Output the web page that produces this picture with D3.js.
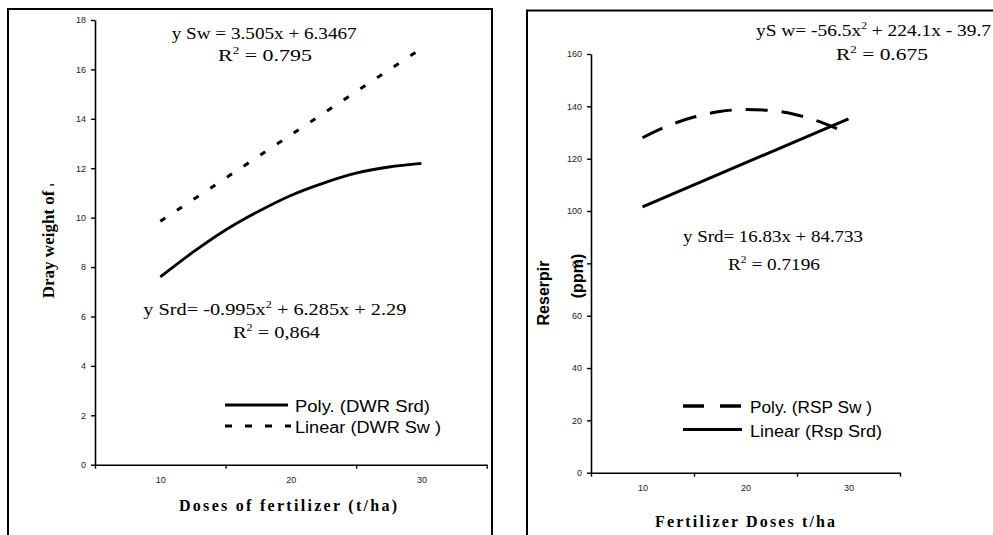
<!DOCTYPE html>
<html><head><meta charset="utf-8">
<script src="https://cdn.jsdelivr.net/npm/d3@7"></script>
<style>body{margin:0;background:#fff}svg{display:block}</style>
</head><body>
<svg id="c" width="993" height="535"></svg>
<script>
// ---------- data ----------
const doseCategories = ["10", "20", "30"];
const categoryPos = [1, 2, 3];
const categoryEdges = [0.5, 1.5, 2.5, 3.5];
const dwrTicks = [0, 2, 4, 6, 8, 10, 12, 14, 16, 18];
const rspTicks = [0, 20, 40, 60, 80, 100, 120, 140, 160];

// Left chart: dry weight trendlines
const dwrSrdX = [1, 1.25, 1.5, 1.75, 2, 2.25, 2.5, 2.75, 3];
const dwrSrdPoly = [7.6, 8.6, 9.5, 10.25, 10.9, 11.4, 11.8, 12.05, 12.2];
const dwrSwX = [1, 2, 3];
const dwrSwLinear = [9.85, 13.35, 16.85];

// Right chart: reserpine trendlines
const rspSwX = [1, 1.25, 1.5, 1.75, 2, 2.25, 2.5, 2.75, 3];
const rspSwPoly = [128, 132.6, 135.9, 138.0, 138.8, 138.4, 136.7, 133.7, 129.5];
const rspSrdX = [1, 3];
const rspSrdLinear = [101.6, 135.2];

// ---------- drawing ----------
const svg = d3.select("#c");
const SERIF = "'Liberation Serif','Times New Roman',serif";
const SANS = "'Liberation Sans',Arial,sans-serif";

function label(g, x, y, parts, o) {
  const t = g.append("text").attr("x", x).attr("y", y)
    .attr("font-family", o.family).attr("font-size", o.size)
    .attr("font-weight", o.weight || "normal").attr("fill", "#000");
  if (o.len) t.attr("textLength", o.len).attr("lengthAdjust", o.adjust || "spacingAndGlyphs");
  if (o.anchor) t.attr("text-anchor", o.anchor);
  if (o.transform) t.attr("transform", o.transform);
  parts.forEach(p => {
    const s = t.append("tspan").text(p.t);
    if (p.sup) s.attr("font-size", o.size * 0.6).attr("dy", -o.size * 0.4);
    if (p.down) s.attr("dy", o.size * 0.4);
    if (p.small) s.attr("font-size", p.small);
  });
  return t;
}

function panel(cfg) {
  const g = svg.append("g");
  g.append("rect").attr("x", cfg.frame[0]).attr("y", cfg.frame[1])
    .attr("width", cfg.frame[2]).attr("height", cfg.frame[3])
    .attr("fill", "none").attr("stroke", "#000").attr("stroke-width", 2);

  const x = d3.scaleLinear().domain([0.5, 3.5]).range(cfg.xr);
  const y = d3.scaleLinear().domain(cfg.ydom).range(cfg.yr);

  const ya = g.append("g").attr("transform", `translate(${cfg.xr[0]},0)`)
    .call(d3.axisLeft(y).tickValues(cfg.yticks).tickSize(4).tickSizeOuter(0).tickPadding(5));
  ya.select(".domain").attr("stroke-width", 1.6);
  ya.selectAll(".tick line").attr("stroke-width", 1.4);
  ya.selectAll(".tick text").attr("font-family", SANS).attr("font-size", 9).attr("fill", "#222");

  const xa = g.append("g").attr("transform", `translate(0,${cfg.yr[0]})`)
    .call(d3.axisBottom(x).tickValues(categoryEdges).tickSize(4).tickSizeOuter(0).tickFormat(""));
  xa.select(".domain").attr("stroke-width", 1.6);
  xa.selectAll(".tick line").attr("stroke-width", 1.4);
  const xl = g.append("g").attr("transform", `translate(0,${cfg.yr[0]})`)
    .call(d3.axisBottom(x).tickValues(categoryPos).tickSize(0).tickPadding(12)
      .tickFormat((d, i) => doseCategories[i]));
  xl.select(".domain").remove();
  xl.selectAll(".tick text").attr("font-family", SANS).attr("font-size", 9).attr("fill", "#222");

  const line = d3.line().x(d => x(d[0])).y(d => y(d[1])).curve(d3.curveMonotoneX);
  cfg.series.forEach(s => {
    g.append("path").datum(s.x.map((v, i) => [v, s.y[i]]))
      .attr("d", line).attr("fill", "none").attr("stroke", "#000")
      .attr("stroke-width", s.w).attr("stroke-dasharray", s.dash || null);
  });
  return {g, x, y};
}

const L = panel({
  frame: [8, 9, 484, 600], xr: [95, 486.7], yr: [464.7, 20], ydom: [0, 18], yticks: dwrTicks,
  series: [
    {x: dwrSrdX, y: dwrSrdPoly, w: 2.8},
    {x: dwrSwX, y: dwrSwLinear, w: 3, dash: "6,14"}
  ]
});
const R = panel({
  frame: [527, 10.5, 600, 600], xr: [591, 900], yr: [472.7, 54], ydom: [0, 160], yticks: rspTicks,
  series: [
    {x: rspSwX, y: rspSwPoly, w: 3, dash: "22,14"},
    {x: rspSrdX, y: rspSrdLinear, w: 3}
  ]
});

// ---- left chart texts ----
const lg = L.g;
label(lg, 171.7, 39, [{t: "y Sw = 3.505x + 6.3467"}], {family: SERIF, size: 16.5, len: 185});
label(lg, 218, 61, [{t: "R"}, {t: "2", sup: true}, {t: " = 0.795", down: true}], {family: SERIF, size: 16.5, len: 94});
label(lg, 143.3, 315, [{t: "y Srd= -0.995x"}, {t: "2", sup: true}, {t: " + 6.285x + 2.29", down: true}], {family: SERIF, size: 16.5, len: 263});
label(lg, 233, 337.5, [{t: "R"}, {t: "2", sup: true}, {t: " = 0,864", down: true}], {family: SERIF, size: 16.5, len: 87});
label(lg, 179, 511, [{t: "Doses of fertilizer (t/ha)"}], {family: SERIF, size: 16, weight: "bold", len: 218, adjust: "spacing"});
label(lg, 0, 0, [{t: "Dray weight of "}, {t: "ı", small: 9}], {family: SERIF, size: 17, weight: "bold", anchor: "middle", transform: "translate(54,241) rotate(-90)"});
lg.append("line").attr("x1", 225).attr("x2", 288).attr("y1", 405).attr("y2", 405).attr("stroke", "#000").attr("stroke-width", 3);
lg.append("line").attr("x1", 225).attr("x2", 291).attr("y1", 426).attr("y2", 426).attr("stroke", "#000").attr("stroke-width", 3).attr("stroke-dasharray", "7,13");
label(lg, 295, 411.5, [{t: "Poly. (DWR Srd)"}], {family: SANS, size: 16, len: 135});
label(lg, 295, 432.5, [{t: "Linear (DWR Sw )"}], {family: SANS, size: 16, len: 146});

// ---- right chart texts ----
const rg = R.g;
label(rg, 756, 36, [{t: "yS w= -56.5x"}, {t: "2", sup: true}, {t: " + 224.1x - 39.7", down: true}], {family: SERIF, size: 16.5, len: 235});
label(rg, 836, 60, [{t: "R"}, {t: "2", sup: true}, {t: " = 0.675", down: true}], {family: SERIF, size: 16.5, len: 92});
label(rg, 683, 241.5, [{t: "y Srd= 16.83x + 84.733"}], {family: SERIF, size: 16.5, len: 180});
label(rg, 728, 270, [{t: "R"}, {t: "2", sup: true}, {t: " = 0.7196", down: true}], {family: SERIF, size: 16.5, len: 92});
label(rg, 655, 527, [{t: "Fertilizer Doses  t/ha"}], {family: SERIF, size: 16, weight: "bold", len: 180, adjust: "spacing"});
label(rg, 0, 0, [{t: "Reserpir"}], {family: SANS, size: 16, weight: "bold", anchor: "middle", transform: "translate(549,293) rotate(-90)"});
label(rg, 0, 0, [{t: "(ppm)"}], {family: SANS, size: 16, weight: "bold", anchor: "middle", transform: "translate(583,276) rotate(-90)"});
rg.append("line").attr("x1", 683).attr("x2", 742).attr("y1", 406).attr("y2", 406).attr("stroke", "#000").attr("stroke-width", 3.5).attr("stroke-dasharray", "21,16");
rg.append("line").attr("x1", 683).attr("x2", 742).attr("y1", 429.5).attr("y2", 429.5).attr("stroke", "#000").attr("stroke-width", 3);
label(rg, 750, 413, [{t: "Poly. (RSP Sw )"}], {family: SANS, size: 16, len: 122});
label(rg, 750, 436.5, [{t: "Linear (Rsp Srd)"}], {family: SANS, size: 16, len: 132});
</script>
</body></html>
